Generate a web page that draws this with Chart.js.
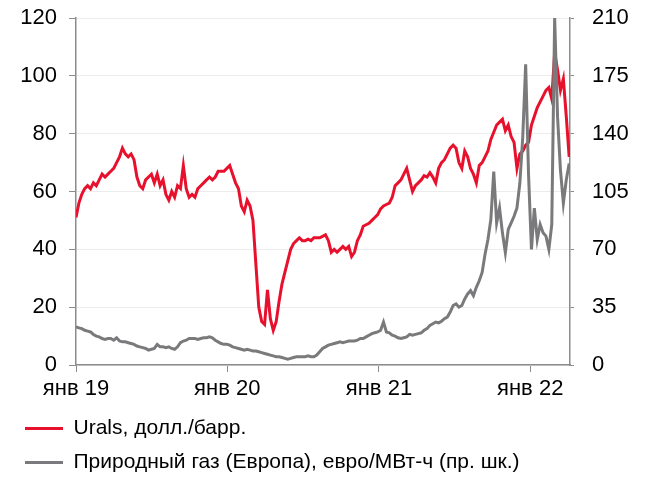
<!DOCTYPE html>
<html>
<head>
<meta charset="utf-8">
<script src="https://cdn.jsdelivr.net/npm/chart.js@4.4.1/dist/chart.umd.min.js"></script>
<style>
  html, body { margin: 0; padding: 0; background: #fff; }
  #wrap { width: 648px; height: 487px; }
</style>
</head>
<body>
<div id="wrap"><canvas id="chart"></canvas></div>
<script>
// weekly readings, first point = 1 Jan 2019, x in days
var stepDays = 7;
var lastDay = 1192;
var yearTicks = [0, 365, 731, 1096];
var yearLabels = ['янв 19', 'янв 20', 'янв 21', 'янв 22'];

// Urals, долл./барр.
var urals = [
	51, 56, 59, 61, 62, 61, 63, 62, 64, 66,
	65, 66, 67, 68, 70, 72, 75, 73, 72, 73,
	71, 65, 62, 61, 64, 65, 66, 63, 66, 62,
	64, 59, 57, 60, 58, 62, 61, 69, 61, 58,
	59, 58, 61, 62, 63, 64, 65, 64, 65, 67,
	67, 67, 68, 69, 66, 63, 61, 55, 53, 57,
	55, 50, 35, 20, 15, 14, 26, 16, 12, 15,
	22, 28, 32, 36, 40, 42, 43, 44, 43, 43,
	43.5, 43, 44, 44, 44, 44.5, 45, 43, 39, 40,
	39, 40, 41, 40, 41, 37.5, 39, 43, 45, 48,
	48.5, 49, 50, 51, 52, 54, 55, 55.5, 56, 58,
	62, 63, 64, 66, 68, 64, 60, 62, 63, 64,
	65.5, 65, 66.5, 65, 63, 68, 70, 71, 73, 75,
	76, 75, 70, 68, 74, 72, 68, 66, 63, 69,
	70, 72, 74, 78, 80.5, 83, 84, 85, 81, 83,
	79, 77, 68, 73, 74, 76, 77, 83, 86, 89,
	91, 93, 95, 96, 92, 108, 102, 95, 99, 86,
	72
];

// Природный газ (Европа), евро/МВт-ч
var gas = [
	23, 22.5, 22, 21, 20.5, 20, 18.5, 17.5, 17, 16,
	15.5, 16, 16, 15, 16.5, 14.5, 14, 14, 13.5, 13,
	12.5, 11.5, 11, 10.5, 10, 9, 9.5, 10, 12.5, 11,
	11, 10.5, 11, 10, 9.5, 11, 13.5, 14.5, 15, 16,
	16, 16, 15.5, 16, 16.5, 16.5, 17, 16.5, 15, 14,
	13, 12.5, 12.5, 12, 11, 10.5, 10, 9.5, 9, 9.5,
	9, 8.5, 8.5, 8, 7.5, 7, 6.5, 6, 5.5, 5,
	5, 4.5, 4, 3.5, 4, 4.5, 5, 5, 5, 5,
	5.5, 5, 5, 6, 8, 10, 11, 12, 12.5, 13,
	13.5, 14, 13.5, 14, 14.5, 14.5, 14.5, 15, 16, 16,
	17, 18, 19, 19.5, 20, 21, 26, 20, 19.5, 18,
	17.5, 16.5, 16, 16.5, 17, 18.5, 18, 18.5, 19, 19.5,
	21, 22, 24, 25, 26, 25.5, 26.5, 28, 29, 32,
	36, 37, 35, 36, 40, 43, 45, 42, 47, 51,
	56, 67, 76, 88, 117, 86, 95, 80, 68, 82,
	86, 90, 95, 110, 138, 182, 115, 70, 95, 76,
	85, 80, 78, 70, 85, 210, 150, 118, 98, 112,
	122
];

function toPoints(values) {
	var pts = [];
	for (var i = 0; i < values.length; i++) {
		pts.push({x: i * stepDays, y: values[i]});
	}
	return pts;
}

// keep the tick padding horizontal only, so the plot reaches up to the 120 label
function trimVertical(scale) {
	scale.paddingTop = 12;
	scale.paddingBottom = 0;
}

Chart.defaults.font.family = '"Liberation Sans", Arial, sans-serif';
Chart.defaults.color = '#000';

var axisColor = '#8c8c8c';

var config = {
	type: 'line',
	data: {
		datasets: [{
			label: 'Urals, долл./барр.',
			data: toPoints(urals),
			borderColor: '#e8112d',
			backgroundColor: '#e8112d',
			borderWidth: 3,
			pointRadius: 0,
			tension: 0,
			yAxisID: 'y',
			order: 1
		}, {
			label: 'Природный газ (Европа), евро/МВт-ч (пр. шк.)',
			data: toPoints(gas),
			borderColor: '#7a7a7c',
			backgroundColor: '#7a7a7c',
			borderWidth: 3,
			pointRadius: 0,
			tension: 0,
			yAxisID: 'y1',
			order: 0
		}]
	},
	options: {
		responsive: true,
		maintainAspectRatio: false,
		animation: false,
		layout: { padding: { left: 12, right: 0, top: 18, bottom: 4 } },
		plugins: {
			tooltip: { enabled: false },
			legend: {
				position: 'bottom',
				align: 'start',
				labels: {
					usePointStyle: true,
					pointStyle: 'line',
					pointStyleWidth: 38,
					font: { size: 21 },
					padding: 13,
					sort: function(a, b) { return a.datasetIndex - b.datasetIndex; }
				}
			}
		},
		scales: {
			x: {
				type: 'linear',
				min: 0,
				max: lastDay,
				afterBuildTicks: function(scale) {
					scale.ticks = yearTicks.map(function(v) { return {value: v}; });
				},
				ticks: {
					autoSkip: false,
					maxRotation: 0,
					font: { size: 22 },
					padding: 4,
					callback: function(v) {
						var i = yearTicks.indexOf(v);
						return i >= 0 ? yearLabels[i] : '';
					}
				},
				grid: { drawOnChartArea: false, tickLength: 7, tickColor: axisColor },
				border: { color: axisColor, width: 1.5 },
				afterFit: function(scale) { scale.height = 40; }
			},
			y: {
				position: 'left',
				min: 0,
				max: 120,
				ticks: { stepSize: 20, font: { size: 22 }, padding: 12 },
				grid: { color: '#ececec', tickColor: axisColor, tickLength: 7 },
				border: { color: axisColor, width: 1.5 },
				afterFit: function(scale) { scale.width = 64; trimVertical(scale); }
			},
			y1: {
				position: 'right',
				min: 0,
				max: 210,
				ticks: { stepSize: 35, font: { size: 22 }, padding: 18 },
				grid: { drawOnChartArea: false, tickColor: axisColor, tickLength: 4 },
				border: { color: axisColor, width: 1.5 },
				afterFit: function(scale) { scale.width = 78; trimVertical(scale); }
			}
		}
	}
};

var ctx = document.getElementById('chart').getContext('2d');
window.myLine = new Chart(ctx, config);
</script>
</body>
</html>
